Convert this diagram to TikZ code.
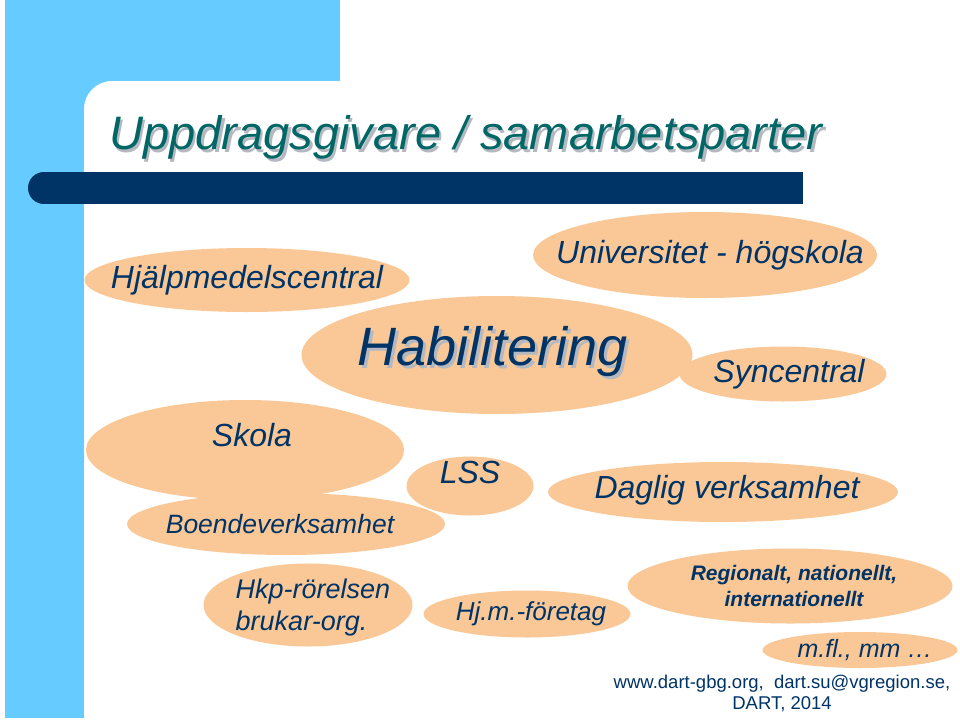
\documentclass[tikz,border=0pt]{standalone}
\usepackage{fontspec}
\setmainfont{Liberation Sans}
\usetikzlibrary{shapes.geometric}
\definecolor{peach}{HTML}{FAC896}
\definecolor{navy}{HTML}{003366}
\definecolor{sky}{HTML}{66CCFF}
\definecolor{titlegreen}{HTML}{006666}
\definecolor{shadowgray}{HTML}{B4B8C0}
\newcommand{\dropshadow}[1]{\rlap{\hspace{2.5pt}\raisebox{-2.5pt}{\textcolor{shadowgray}{#1}}}#1}
\begin{document}
\begin{tikzpicture}
  [x=1pt,y=-1pt,
   blob/.style={ellipse,fill=peach,inner sep=0pt},
   lbl/.style={text=navy,inner sep=0pt,font=\itshape\fontsize{32}{36}\selectfont}]
  \useasboundingbox (0,0) rectangle (960,720);
  \fill[white] (0,0) rectangle (960,720);
  % frame
  \fill[sky] (5,0) rectangle (340,81);
  \fill[sky] (5,0) rectangle (84,718);
  \fill[sky] (84,81) rectangle (112,109);
  \fill[white] (112,109) circle (28pt);
  \fill[navy] (44,172) rectangle (803,204);
  \fill[navy] (44,188) circle (16pt);
  % title
  \node[text=titlegreen,font=\itshape\fontsize{47}{50}\selectfont] (title) at (466,139) {\dropshadow{Uppdragsgivare / samarbetsparter}};

  \node[blob,minimum width=325pt,minimum height=64pt,
        label={[lbl]center:Hjälpmedelscentral}] (hjm) at (247,280) {};
  \node[blob,minimum width=344pt,minimum height=86pt,
        label={[lbl,xshift=5pt]center:Universitet - högskola}] (uni) at (705,255) {};
  \node[blob,minimum width=391pt,minimum height=118pt,
        label={[lbl,xshift=-4pt,yshift=2pt,font=\itshape\fontsize{54}{58}\selectfont]center:\dropshadow{Habilitering}}] (hab) at (497,355) {};
  \node[blob,minimum width=207pt,minimum height=55pt,
        label={[lbl,xshift=6pt]center:Syncentral}] (syn) at (783,374) {};
  \node[blob,minimum width=318pt,minimum height=100pt,
        label={[lbl,xshift=7pt,yshift=15pt]center:Skola}] (skola) at (245,450) {};
  \node[blob,minimum width=127pt,minimum height=59pt,
        label={[lbl,yshift=14pt]center:LSS}] (lss) at (470,486) {};
  \node[blob,minimum width=350pt,minimum height=60pt,
        label={[lbl,xshift=4pt,yshift=2pt]center:Daglig verksamhet}] (daglig) at (723,492) {};
  \node[blob,minimum width=318pt,minimum height=62pt,
        label={[lbl,xshift=-6pt,font=\itshape\fontsize{26.5}{30}\selectfont]center:Boendeverksamhet}] (boende) at (286,524) {};
  \node[blob,minimum width=209pt,minimum height=83pt,
        label={[lbl,xshift=5pt,yshift=-3pt,align=left,font=\itshape\fontsize{27}{32}\selectfont]center:Hkp-rörelsen\\brukar-org.}] (hkp) at (308,605) {};
  \node[blob,minimum width=207pt,minimum height=47pt,
        label={[lbl,xshift=4pt,font=\itshape\fontsize{26}{30}\selectfont]center:Hj.m.-företag}] (hjmf) at (527,614) {};
  \node[blob,minimum width=325pt,minimum height=75pt,
        label={[lbl,xshift=4pt,align=center,font=\bfseries\itshape\fontsize{21}{26}\selectfont]center:Regionalt, nationellt,\\internationellt}] (reg) at (790,586) {};
  \node[blob,minimum width=195pt,minimum height=36pt,
        label={[lbl,xshift=5pt,font=\itshape\fontsize{25}{28}\selectfont]center:m.fl., mm …}] (mfl) at (860,650) {};

  \node[text=navy,align=center,font=\fontsize{18.5}{21}\selectfont] (footer) at (782,693) {www.dart-gbg.org,\ \ dart.su@vgregion.se,\\DART, 2014};
\end{tikzpicture}
\end{document}
